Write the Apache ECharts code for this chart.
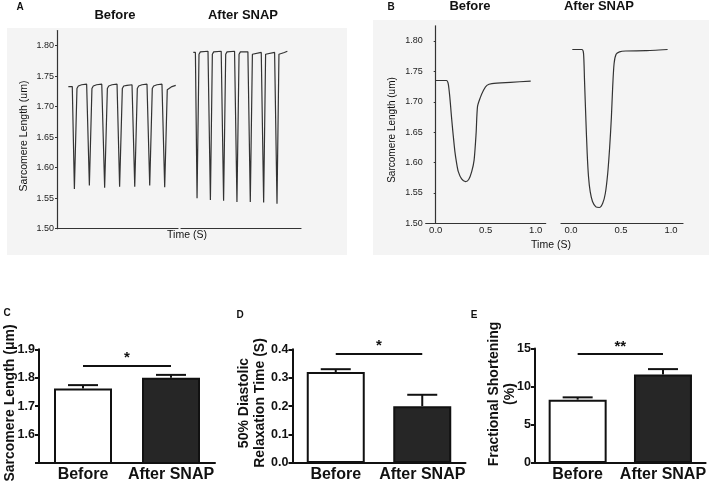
<!DOCTYPE html>
<html>
<head>
<meta charset="utf-8">
<script src="https://cdn.jsdelivr.net/npm/echarts@6/dist/echarts.min.js"></script>
<style>html,body{margin:0;padding:0;background:#fff}#c{width:709px;height:483px}</style>
</head>
<body>
<div id="c"></div>
<script>
// ---------- DATA ----------
// Panel A: representative traces (time in s, sarcomere length in um)
const traceA_before = [
  [0.75,1.733],[1.01,1.733],[1.15,1.565],[1.32,1.730],[1.41,1.734],[1.63,1.736],[1.96,1.737],
  [2.01,1.736],[2.14,1.571],[2.31,1.730],[2.40,1.734],[2.62,1.736],[2.96,1.737],
  [3.02,1.736],[3.15,1.567],[3.33,1.730],[3.42,1.734],[3.64,1.736],[3.97,1.737],
  [4.01,1.736],[4.14,1.569],[4.32,1.730],[4.41,1.734],[4.63,1.735],[4.96,1.736],
  [5.00,1.736],[5.14,1.569],[5.31,1.730],[5.40,1.734],[5.62,1.736],[5.95,1.737],
  [5.99,1.736],[6.13,1.571],[6.30,1.730],[6.39,1.734],[6.61,1.736],[6.94,1.737],
  [6.99,1.736],[7.12,1.568],[7.29,1.728],[7.38,1.731],[7.60,1.733],[7.85,1.735]
];
const traceA_after = [
  [0.82,1.789],[0.96,1.789],[1.07,1.550],[1.20,1.786],[1.29,1.790],[1.80,1.791],
  [1.85,1.791],[1.96,1.547],[2.09,1.786],[2.18,1.790],[2.68,1.791],
  [2.73,1.791],[2.84,1.546],[2.98,1.786],[3.07,1.790],[3.57,1.791],
  [3.62,1.791],[3.73,1.544],[3.87,1.786],[3.96,1.790],[4.46,1.790],
  [4.51,1.790],[4.62,1.544],[4.76,1.786],[4.84,1.789],[5.35,1.789],
  [5.40,1.789],[5.51,1.543],[5.64,1.786],[5.73,1.789],[6.24,1.789],
  [6.29,1.789],[6.40,1.541],[6.53,1.786],[6.62,1.788],[6.89,1.789],[7.09,1.791]
];
// Panel B: single twitch
const traceB_before = [
  [0.00,1.735],[0.05,1.735],[0.108,1.735],[0.125,1.730],[0.141,1.708],[0.158,1.675],[0.175,1.645],
  [0.192,1.618],[0.209,1.599],[0.226,1.585],[0.259,1.573],[0.298,1.5685],[0.33,1.572],[0.36,1.585],
  [0.384,1.604],[0.404,1.648],[0.418,1.692],[0.444,1.706],[0.478,1.719],[0.512,1.727],[0.562,1.730],
  [0.747,1.732],[0.95,1.734]
];
const traceB_after = [
  [0.013,1.786],[0.108,1.786],[0.125,1.780],[0.135,1.736],[0.149,1.670],[0.162,1.615],[0.175,1.577],
  [0.192,1.552],[0.215,1.536],[0.249,1.527],[0.283,1.526],[0.317,1.533],[0.343,1.549],[0.367,1.582],
  [0.387,1.626],[0.404,1.675],[0.417,1.725],[0.431,1.763],[0.451,1.778],[0.485,1.782],[0.545,1.7835],
  [0.747,1.784],[0.966,1.786]
];
const timeTicksB = [0, 0.5, 1.0];

// Bar panels
const categories = ['Before', 'After SNAP'];
const lengthMean = [1.762, 1.800];
const lengthErr  = [0.012, 0.010];
const relaxMean  = [0.32, 0.20];
const relaxErr   = [0.010, 0.040];
const shortMean  = [8.3, 11.6];
const shortErr   = [0.3, 0.7];
const sigLevel   = [1.843, 0.386, 14.27];
const sigMark    = ['*', '*', '**'];

// ---------- STYLE ----------
const FONT = 'Liberation Sans, Arial, sans-serif';
const barFill = ['#ffffff', '#262626'];
const ink = '#111';
const traceColor = '#333';

const chart = echarts.init(document.getElementById('c'), null, {renderer: 'canvas'});

function traceAxisX(grid, opts) {
  return Object.assign({
    type: 'value', gridIndex: grid,
    axisLine: {show: true, lineStyle: {color: '#333', width: 1.2}},
    axisTick: {show: false}, axisLabel: {show: false}, splitLine: {show: false}
  }, opts);
}
function traceAxisY(grid, show) {
  return {
    type: 'value', gridIndex: grid, min: 1.5, max: 1.825, interval: 0.05, show: show,
    axisLine: {show: true, lineStyle: {color: '#333', width: 1.2}},
    axisTick: {show: true, length: 2, lineStyle: {color: '#333'}},
    axisLabel: {fontSize: 9, color: '#222', fontFamily: FONT, margin: 3, showMaxLabel: false,
      formatter: v => (v > 1.81 ? '' : v.toFixed(2))},
    splitLine: {show: false}
  };
}
function barAxisX(grid) {
  return {
    type: 'category', gridIndex: grid, data: categories,
    axisLine: {show: true, lineStyle: {color: ink, width: 2}},
    axisTick: {show: false},
    axisLabel: {interval: 0, fontSize: 16, fontWeight: 'bold', color: ink, fontFamily: FONT, margin: 4}
  };
}
function barAxisY(grid, min, max, interval, fmt) {
  return {
    type: 'value', gridIndex: grid, min: min, max: max, interval: interval,
    axisLine: {show: true, lineStyle: {color: ink, width: 2}},
    axisTick: {show: true, length: 4, lineStyle: {color: ink, width: 2}},
    axisLabel: {fontSize: 12.5, fontWeight: 'bold', color: ink, fontFamily: FONT, margin: 4, formatter: fmt},
    splitLine: {show: false}
  };
}
function errRender(params, api) {
  const c = api.value(0), m = api.value(1), e = api.value(2);
  const p0 = api.coord([c, m]);
  const p1 = api.coord([c, m + e]);
  const half = 15;
  return {type: 'group', children: [
    {type: 'line', shape: {x1: p0[0], y1: p0[1], x2: p1[0], y2: p1[1]}, style: {stroke: ink, lineWidth: 2}},
    {type: 'line', shape: {x1: p1[0] - half, y1: p1[1], x2: p1[0] + half, y2: p1[1]}, style: {stroke: ink, lineWidth: 2}}
  ]};
}
function barSeries(axisIdx, means, sig, mark) {
  return {
    type: 'bar', xAxisIndex: axisIdx, yAxisIndex: axisIdx, barWidth: 58, clip: true,
    data: means.map((v, i) => ({value: v, itemStyle: {color: barFill[i], borderColor: ink, borderWidth: 2}})),
    markLine: {
      silent: true, symbol: ['none', 'none'], animation: false,
      lineStyle: {color: ink, width: 2, type: 'solid'},
      label: {show: true, position: 'middle', formatter: mark, fontSize: 15, fontWeight: 'bold', color: ink, fontFamily: FONT, distance: 0},
      data: [[{coord: [categories[0], sig]}, {coord: [categories[1], sig]}]]
    }
  };
}
function errSeries(axisIdx, means, errs) {
  return {
    type: 'custom', xAxisIndex: axisIdx, yAxisIndex: axisIdx, renderItem: errRender, z: 5,
    data: means.map((m, i) => [i, m, errs[i]])
  };
}
function lineSeries(axisIdx, data, smooth) {
  return {
    type: 'line', xAxisIndex: axisIdx, yAxisIndex: axisIdx, data: data, showSymbol: false,
    smooth: smooth, lineStyle: {color: traceColor, width: 1.2}, animation: false
  };
}
function txt(x, y, text, size, weight, extra) {
  return Object.assign({
    type: 'text', x: x, y: y, z: 10,
    style: Object.assign({text: text, fontSize: size, fontWeight: weight, fontFamily: FONT, fill: '#111',
      align: 'center', verticalAlign: 'middle'}, extra || {})
  });
}
function vtxt(x, y, text, size, weight, lh) {
  const t = txt(x, y, text, size, weight, {lineHeight: lh || size * 1.15});
  t.rotation = Math.PI / 2;
  return t;
}

const option = {
  animation: false,
  backgroundColor: '#ffffff',
  grid: [
    {left: 57, top: 30.5, width: 121, height: 198.2},   // A before
    {left: 181, top: 30.5, width: 120, height: 198.2},  // A after
    {left: 425.7, top: 25.8, width: 120, height: 197.5},// B before
    {left: 561, top: 25.8, width: 122, height: 197.5},  // B after
    {left: 39, top: 349.3, width: 176, height: 114.3},  // C
    {left: 292.5, top: 349.3, width: 173, height: 114.7}, // D
    {left: 535, top: 348.5, width: 171, height: 115}    // E
  ],
  xAxis: [
    traceAxisX(0, {min: 0, max: 8}),
    traceAxisX(1, {min: 0, max: 8}),
    traceAxisX(2, {min: -0.1, max: 1.1, axisLabel: {show: true, customValues: timeTicksB, fontSize: 9.5, color: '#222', fontFamily: FONT, margin: 2, formatter: v => v.toFixed(1)}}),
    traceAxisX(3, {min: -0.1, max: 1.12, axisLabel: {show: true, customValues: timeTicksB, fontSize: 9.5, color: '#222', fontFamily: FONT, margin: 2, formatter: v => v.toFixed(1)}}),
    barAxisX(4), barAxisX(5), barAxisX(6)
  ],
  yAxis: [
    traceAxisY(0, true), traceAxisY(1, false), traceAxisY(2, true), traceAxisY(3, false),
    barAxisY(4, 1.5, 1.9, 0.1, v => (v < 1.55 ? '' : v.toFixed(1))),
    barAxisY(5, 0, 0.4, 0.1, v => v.toFixed(1)),
    barAxisY(6, 0, 15, 5, v => String(v))
  ],
  series: [
    lineSeries(0, traceA_before, false),
    lineSeries(1, traceA_after, false),
    lineSeries(2, traceB_before, 0.25),
    lineSeries(3, traceB_after, 0.25),
    barSeries(4, lengthMean, sigLevel[0], sigMark[0]), errSeries(4, lengthMean, lengthErr),
    barSeries(5, relaxMean, sigLevel[1], sigMark[1]), errSeries(5, relaxMean, relaxErr),
    barSeries(6, shortMean, sigLevel[2], sigMark[2]), errSeries(6, shortMean, shortErr)
  ],
  graphic: [
    {type: 'rect', z: -10, shape: {x: 7, y: 28, width: 340, height: 227}, style: {fill: '#f4f4f4'}},
    {type: 'rect', z: -10, shape: {x: 373, y: 20, width: 336, height: 235}, style: {fill: '#f4f4f4'}},
    txt(20, 7, 'A', 10, 'bold'),
    txt(391, 7, 'B', 10, 'bold'),
    txt(7, 313, 'C', 10, 'bold'),
    txt(240, 315, 'D', 10, 'bold'),
    txt(474, 315, 'E', 10, 'bold'),
    txt(115, 15, 'Before', 13, 'bold'),
    txt(243, 15, 'After SNAP', 13, 'bold'),
    txt(470, 6, 'Before', 13, 'bold'),
    txt(599, 6, 'After SNAP', 13, 'bold'),
    vtxt(24, 136, 'Sarcomere Length (um)', 10.5, 'normal'),
    vtxt(392, 130, 'Sarcomere Length (um)', 10, 'normal'),
    txt(187, 235, 'Time (S)', 10.5, 'normal'),
    txt(551, 245, 'Time (S)', 10.5, 'normal'),
    vtxt(10, 403, 'Sarcomere Length (\u03bcm)', 14, 'bold'),
    vtxt(252, 403, '50% Diastolic\nRelaxation Time (S)', 14, 'bold', 15.5),
    vtxt(502, 394, 'Fractional Shortening\n(%)', 14, 'bold', 16)
  ]
};
chart.setOption(option);
</script>
</body>
</html>
